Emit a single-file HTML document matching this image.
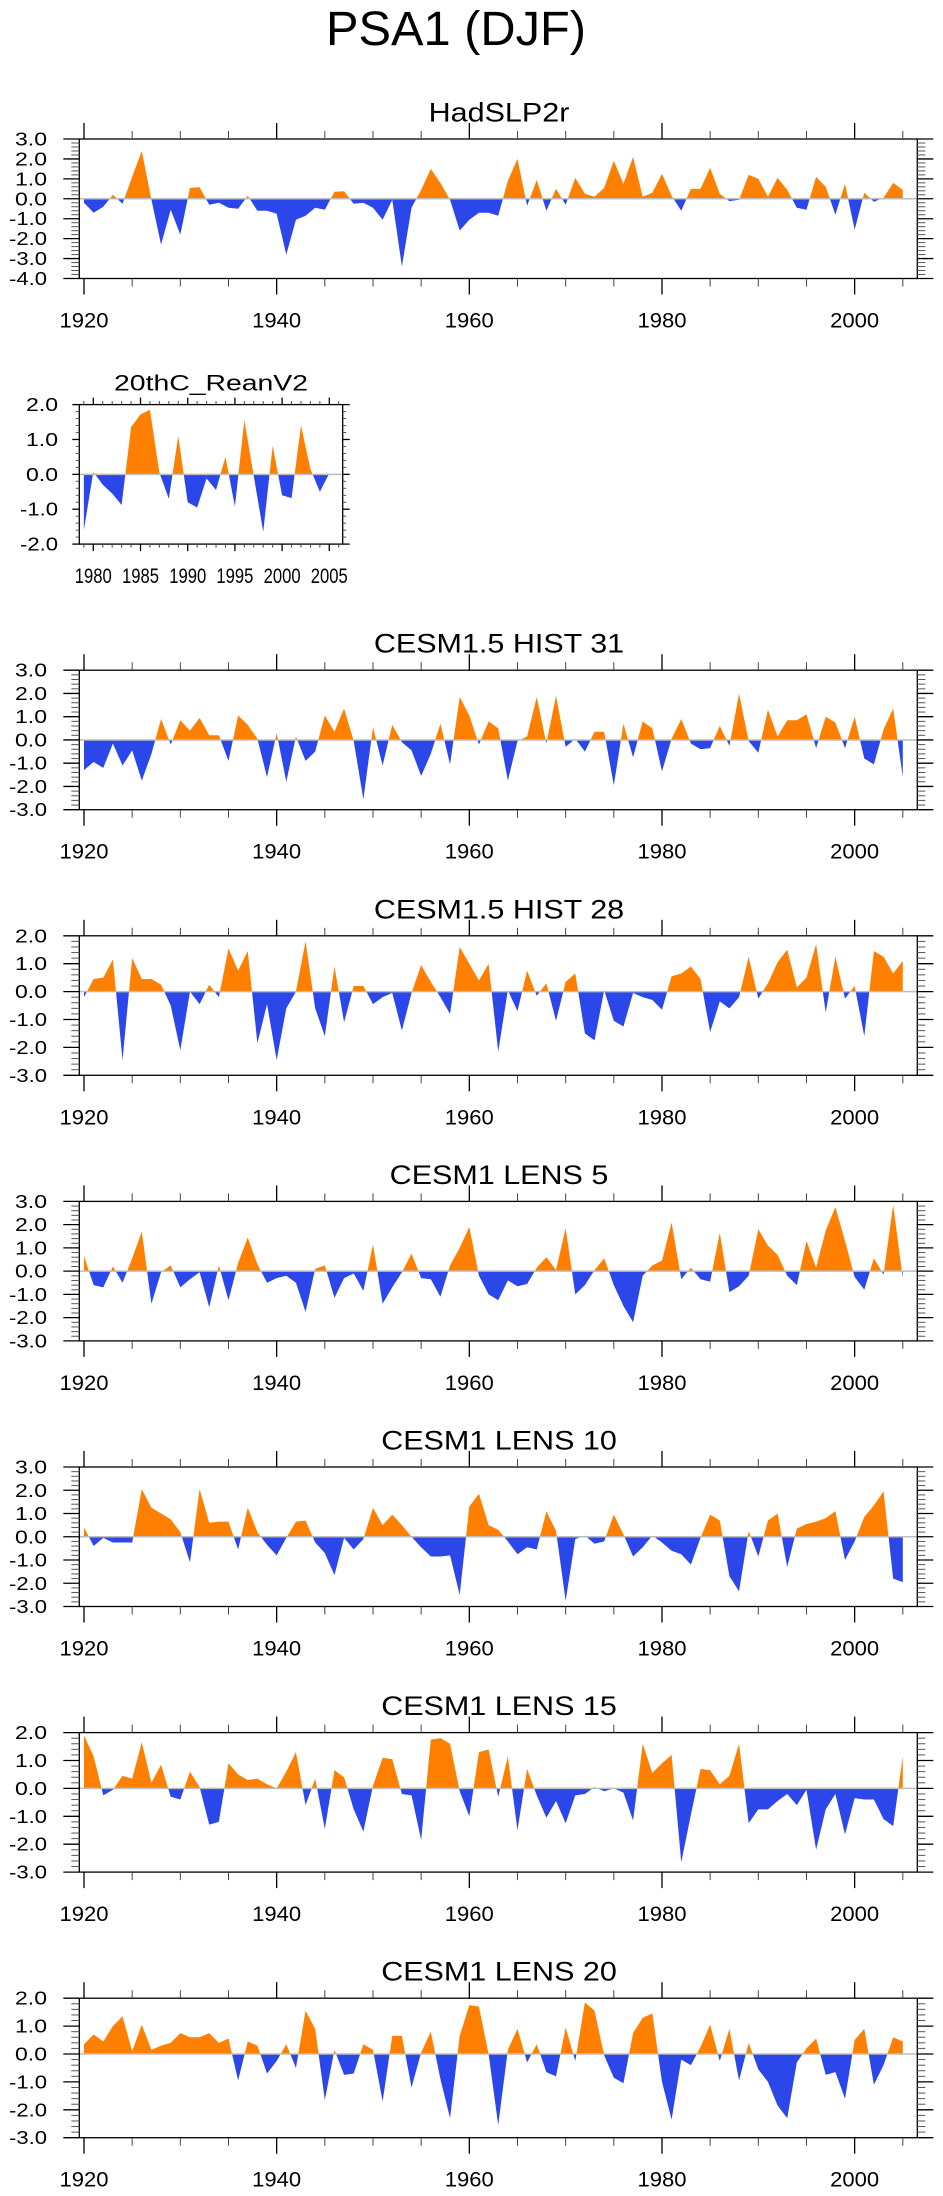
<!DOCTYPE html>
<html><head><meta charset="utf-8"><style>
html,body{margin:0;padding:0;background:#fff;}
svg{display:block;font-family:"Liberation Sans",sans-serif;}
</style></head><body>
<svg id="chart" width="943" height="2196" viewBox="0 0 943 2196" xmlns="http://www.w3.org/2000/svg">
<text x="456" y="45" font-size="48" text-anchor="middle" textLength="260" lengthAdjust="spacingAndGlyphs">PSA1 (DJF)</text>
</svg>
<script>
const titles = ["HadSLP2r","20thC_ReanV2","CESM1.5 HIST 31","CESM1.5 HIST 28","CESM1 LENS 5","CESM1 LENS 10","CESM1 LENS 15","CESM1 LENS 20"];
const yMins = [-4,-2,-3,-3,-3,-3,-3,-3];
const yMaxs = [3,2,3,2,3,3,2,2];
const startYears = [1920,1979,1920,1920,1920,1920,1920,1920];
const hadslp2r = [-0.2,-0.7,-0.4,0.2,-0.25,1.1,2.4,-0.05,-2.3,-0.55,-1.8,0.55,0.58,-0.3,-0.2,-0.45,-0.5,0.15,-0.6,-0.6,-0.75,-2.8,-1.05,-0.85,-0.45,-0.55,0.35,0.38,-0.25,-0.2,-0.45,-1.05,-0.05,-3.4,-0.45,0.45,1.5,0.8,-0.05,-1.6,-1.05,-0.7,-0.7,-0.85,0.9,2.0,-0.35,0.95,-0.6,0.5,-0.3,1.05,0.25,0.1,0.55,1.9,0.75,2.1,0.1,0.3,1.25,0.15,-0.6,0.5,0.5,1.55,0.25,-0.12,-0.05,1.2,1.0,0.1,1.05,0.45,-0.45,-0.55,1.1,0.6,-0.8,0.75,-1.55,0.3,-0.15,0.05,0.8,0.45];
const reanv2 = [-1.6,0.07,-0.3,-0.55,-0.88,1.35,1.72,1.85,0.05,-0.7,1.1,-0.8,-0.95,-0.12,-0.45,0.5,-0.92,1.55,-0.05,-1.65,0.82,-0.6,-0.68,1.4,0.15,-0.5,0.03];
const hist31 = [-1.3,-0.95,-1.2,-0.15,-1.1,-0.45,-1.75,-0.6,0.9,-0.2,0.85,0.4,0.95,0.2,0.2,-0.9,1.05,0.65,0.05,-1.6,0.3,-1.8,0.15,-0.9,-0.5,1.05,0.35,1.35,-0.05,-2.55,0.55,-1.1,0.65,-0.1,-0.45,-1.55,-0.6,0.7,-1.05,1.85,1.05,-0.2,0.8,0.5,-1.75,-0.05,0.15,1.85,-0.15,1.9,-0.3,0.05,-0.5,0.35,0.35,-1.95,0.7,-0.75,0.8,0.5,-1.35,0.05,0.9,-0.15,-0.4,-0.35,0.6,-0.25,2.0,-0.05,-0.55,1.3,0.15,0.85,0.85,1.1,-0.35,1.0,0.75,-0.35,1.0,-0.8,-1.05,0.45,1.35,-1.6];
const hist28 = [-0.2,0.45,0.5,1.15,-2.45,1.2,0.45,0.45,0.25,-0.5,-2.1,0.0,-0.45,0.25,-0.2,1.55,0.75,1.45,-1.85,-0.45,-2.45,-0.6,0.0,1.8,-0.6,-1.6,0.9,-1.1,0.2,0.2,-0.45,-0.2,-0.05,-1.4,-0.05,0.95,0.35,-0.2,-0.8,1.6,1.0,0.4,1.0,-2.15,0.05,-0.7,0.75,-0.15,0.3,-1.05,0.35,0.65,-1.5,-1.75,0.05,-1.05,-1.25,-0.05,-0.2,-0.3,-0.65,0.55,0.65,0.9,0.45,-1.45,-0.35,-0.6,-0.2,1.25,-0.25,0.3,1.05,1.5,0.15,0.5,1.7,-0.75,1.25,-0.25,0.2,-1.6,1.45,1.25,0.65,1.1];
const lens5 = [0.65,-0.6,-0.7,0.2,-0.5,0.55,1.7,-1.4,-0.05,0.25,-0.7,-0.35,-0.05,-1.55,0.25,-1.25,0.35,1.45,0.3,-0.5,-0.3,-0.2,-0.5,-1.75,0.1,0.25,-1.15,-0.3,-0.1,-0.85,1.15,-1.4,-0.7,-0.05,0.75,-0.3,-0.35,-1.1,0.25,1.0,1.9,-0.2,-1.0,-1.25,-0.4,-0.65,-0.55,0.15,0.6,0.05,1.85,-1.0,-0.6,0.05,0.55,-0.6,-1.5,-2.2,-0.2,0.25,0.45,2.1,-0.35,0.15,-0.35,-0.45,1.65,-0.9,-0.65,-0.2,1.8,1.1,0.7,-0.2,-0.6,1.3,0.15,1.75,2.75,1.3,-0.25,-0.8,0.55,-0.15,2.85,-0.3];
const lens10 = [0.4,-0.4,-0.05,-0.25,-0.25,-0.25,2.05,1.25,1.0,0.75,0.2,-1.1,2.05,0.6,0.65,0.65,-0.55,1.25,0.2,-0.35,-0.8,-0.05,0.65,0.7,-0.25,-0.7,-1.65,-0.05,-0.55,-0.1,1.25,0.5,0.95,0.5,0.0,-0.45,-0.85,-0.85,-0.8,-2.5,1.3,1.85,0.5,0.3,-0.2,-0.75,-0.45,-0.55,1.1,0.25,-2.75,-0.1,0.05,-0.3,-0.2,0.95,0.1,-0.85,-0.45,0.05,-0.25,-0.6,-0.75,-1.2,-0.05,0.95,0.7,-1.7,-2.35,0.25,-0.85,0.7,1.0,-1.3,0.35,0.55,0.65,0.8,1.1,-1.0,-0.2,0.85,1.35,1.95,-1.8,-1.95];
const lens15 = [1.9,1.15,-0.25,-0.05,0.45,0.35,1.65,0.2,0.85,-0.3,-0.4,0.6,0.05,-1.3,-1.2,0.9,0.5,0.3,0.35,0.15,0.0,0.6,1.3,-0.6,0.35,-1.45,0.65,0.4,-0.75,-1.55,0.1,1.1,1.05,-0.2,-0.25,-1.85,1.75,1.8,1.6,-0.1,-1.0,1.3,1.4,-0.3,1.15,-1.5,0.7,-0.25,-1.05,-0.45,-1.25,-0.25,-0.2,0.05,-0.1,0.0,-0.15,-1.15,1.6,0.55,0.9,1.2,-2.65,-0.95,0.7,0.65,0.15,0.45,1.6,-1.25,-0.75,-0.75,-0.45,-0.2,-0.6,-0.05,-2.2,-0.75,-0.2,-1.65,-0.35,-0.4,-0.4,-1.1,-1.35,1.15];
const lens20 = [0.35,0.7,0.45,1.0,1.35,0.1,1.05,0.15,0.3,0.4,0.75,0.6,0.6,0.75,0.4,0.55,-0.95,0.45,0.3,-0.7,-0.25,0.35,-0.5,1.55,0.9,-1.65,0.15,-0.75,-0.7,0.35,0.15,-1.7,0.65,0.65,-1.2,0.05,0.8,-0.9,-2.3,0.65,1.75,1.7,0.0,-2.55,0.15,0.9,-0.3,0.35,-0.65,-0.8,0.95,-0.25,1.85,1.55,-0.05,-0.85,-1.05,0.75,1.3,1.45,-1.0,-2.35,-0.2,-0.4,0.25,1.05,-0.25,0.9,-0.95,0.4,-0.55,-1.0,-1.85,-2.3,-0.3,0.2,0.55,-0.75,-0.65,-1.6,0.5,0.9,-1.1,-0.4,0.6,0.45];
const seriesList = [hadslp2r,reanv2,hist31,hist28,lens5,lens10,lens15,lens20];
const majorYearsMain = [1920,1940,1960,1980,2000];
const majorYearsSmall = [1980,1985,1990,1995,2000,2005];

const NS = "http://www.w3.org/2000/svg";
const svg = document.getElementById('chart');
function mk(tag, attrs, parent){
  const e = document.createElementNS(NS, tag);
  for (const k in attrs) e.setAttribute(k, attrs[k]);
  (parent||svg).appendChild(e);
  return e;
}
const ORANGE = "#ff8000", BLUE = "#2b47ea";
const slug = s => s.toLowerCase().replace(/[^a-z0-9]+/g,'-').replace(/-$/,'');

for (let p = 0; p < 8; p++) {
  const small = (p === 1);
  const T = 139 + p*265.6, H = 139.5, B = T + H;
  const L = 79.3, R = small ? 342.7 : 917.3;
  const x0 = small ? 93.3 : 84, y0 = small ? 1980 : 1920, pxy = small ? 9.44 : 9.633;
  const xs = yr => x0 + (yr - y0)*pxy;
  const ymin = yMins[p], ymax = yMaxs[p];
  const ys = v => B - (v - ymin)/(ymax - ymin)*H;
  const data = seriesList[p];
  const g = mk('g', {});
  
  

  // title
  const tcx = small ? 211 : 499;
  const tg = mk('g', {transform: `translate(${tcx},${T - (small?14:17.5)}) scale(${small?1.29:1.13},1)`}, g);
  const tt = mk('text', {x:0, y:0, 'font-size': small?22:27, 'text-anchor':'middle'}, tg);
  tt.textContent = titles[p];
  
  

  // fill areas
  const cid = 'c' + p;
  const defs = mk('defs', {}, g);
  const cpU = mk('clipPath', {id: cid+'u'}, defs);
  mk('rect', {x:L, y:T-5, width:R-L, height:ys(0)-T+5}, cpU);
  const cpD = mk('clipPath', {id: cid+'d'}, defs);
  mk('rect', {x:L, y:ys(0), width:R-L, height:B-ys(0)+5}, cpD);
  let d = `M${xs(startYears[p])},${ys(0)}`;
  data.forEach((v,i) => { d += ` L${xs(startYears[p]+i).toFixed(2)},${ys(v).toFixed(2)}`; });
  d += ` L${xs(startYears[p]+data.length-1)},${ys(0)} Z`;
  const pu = mk('path', {d, fill: ORANGE, 'clip-path': `url(#${cid}u)`}, g);
  
  
  const pd = mk('path', {d, fill: BLUE, 'clip-path': `url(#${cid}d)`}, g);
  
  
  // zero line
  const zl = mk('line', {x1:L, x2:R, y1:ys(0), y2:ys(0), stroke:'#bdbdbd', 'stroke-width':1.5}, g);
  
  

  // box
  const bx = mk('rect', {x:L, y:T, width:R-L, height:H, fill:'none', stroke:'#000', 'stroke-width':1.3}, g);
  
  

  const Mj = small ? 7 : 16, Mn = small ? 3.5 : 8;
  // x ticks
  const yrStart = small ? 1979 : 1920, yrEnd = small ? 2006 : 2005, step = small ? 1 : 5;
  for (let yr = yrStart; yr <= yrEnd; yr += step) {
    const x = xs(yr);
    const major = small ? (yr % 5 === 0) : (yr % 20 === 0);
    const len = major ? Mj : Mn;
    mk('line', {x1:x, x2:x, y1:T, y2:T-len, stroke: major?'#000':'#444', 'stroke-width': major?1.3:1}, g);
    mk('line', {x1:x, x2:x, y1:B, y2:B+len, stroke: major?'#000':'#444', 'stroke-width': major?1.3:1}, g);
  }
  const majors = small ? majorYearsSmall : majorYearsMain;
  majors.forEach(yr => {
    const lt = mk('text', {x:xs(yr), y: small ? B+38.7 : B+49, 'font-size':21, 'text-anchor':'middle', textLength: small?37:49, lengthAdjust:'spacingAndGlyphs'}, g);
    lt.textContent = yr;
    
    
  });
  // y ticks
  for (let k = Math.round(ymin*5); k <= Math.round(ymax*5); k++) {
    const v = k/5, y = ys(v);
    const major = (k % 5 === 0);
    const len = major ? Mj : Mn;
    mk('line', {x1:L, x2:L-len, y1:y, y2:y, stroke: major?'#000':'#555', 'stroke-width': major?1.3:1}, g);
    mk('line', {x1:R, x2:R+len, y1:y, y2:y, stroke: major?'#000':'#555', 'stroke-width': major?1.3:1}, g);
    if (major) {
      const lab = v.toFixed(1);
      const w = lab[0] === '-' ? 38 : 32;
      const rx = small ? 58 : 47;
      const yl = mk('text', {x: rx - w, y: y + 6.5, 'font-size':18, textLength:w, lengthAdjust:'spacingAndGlyphs'}, g);
      yl.textContent = lab;
      
      
    }
  }
}
</script>
</body></html>
